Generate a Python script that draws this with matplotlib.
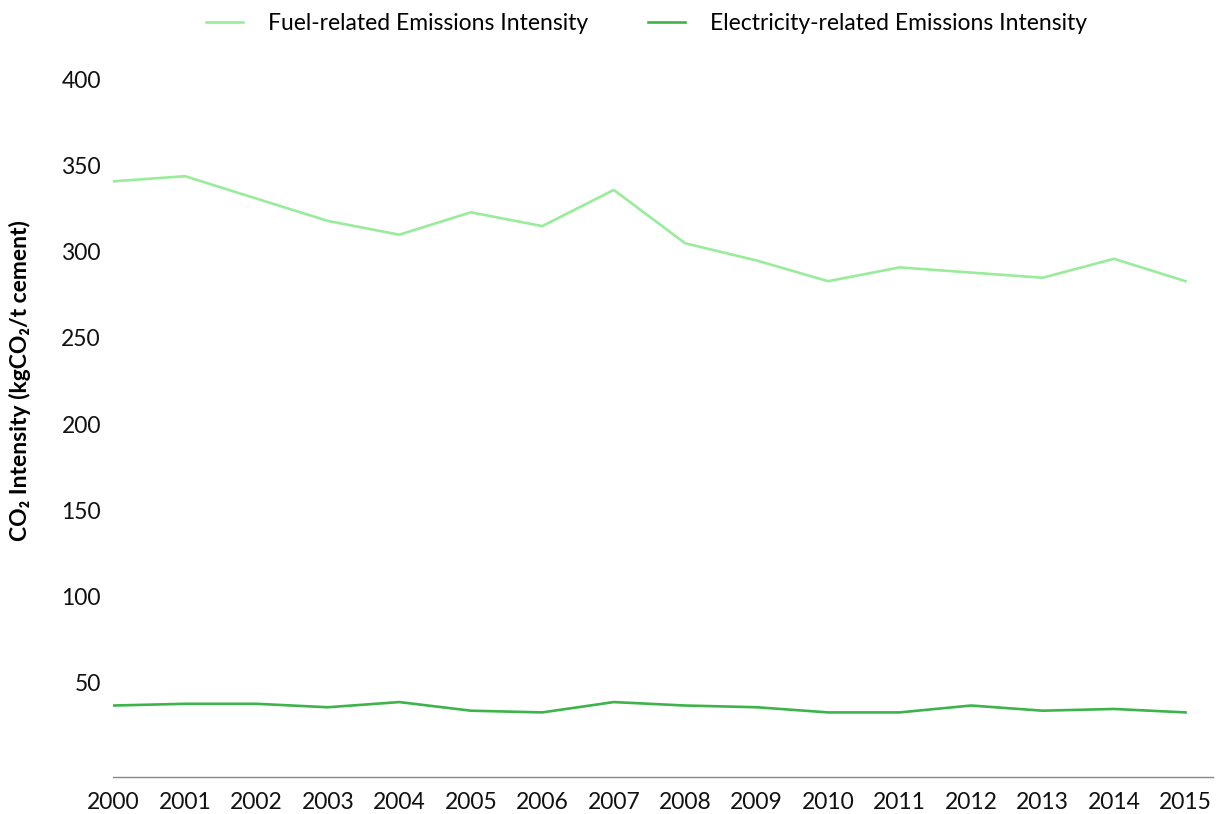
import numpy as np
import matplotlib.pyplot as plt

years = np.arange(2000, 2016)
fuel = [341, 344, 331, 318, 310, 323, 315, 336, 305, 295, 283, 291, 288, 285, 296, 283]
electricity = [36.5, 37.5, 37.5, 35.5, 38.5, 33.5, 32.5, 38.5, 36.5, 35.5, 32.5, 32.5, 36.5, 33.5, 34.5, 32.5]
y_ticks = [50, 100, 150, 200, 250, 300, 350, 400]

plt.rcParams['font.family'] = ['Lato', 'DejaVu Sans']

fig = plt.figure(figsize=(12.2, 8.14), dpi=100)
ax = fig.add_axes([0.093, 0.0455, 0.901, 0.8565])

ax.plot(years, fuel, color='#98ec9a', lw=1.9, label='Fuel-related Emissions Intensity')
ax.plot(years, electricity, color='#3db44a', lw=1.9, label='Electricity-related Emissions Intensity')

ax.set_xlim(2000, 2015.38)
ax.set_ylim(-5, 400)
ax.set_xticks(years)
ax.set_yticks(y_ticks)
ax.tick_params(axis='both', length=0, labelsize=16.5, colors='#111111')
ax.tick_params(axis='x', pad=11)
ax.tick_params(axis='y', pad=9)

for s in ['top', 'right', 'left']:
    ax.spines[s].set_visible(False)
ax.spines['bottom'].set_color('#888888')
ax.spines['bottom'].set_linewidth(1.0)

ax.set_ylabel('CO₂ Intensity (kgCO₂/t cement)', fontsize=16.5, fontweight='bold',
              family=['Lato', 'DejaVu Sans'])
ax.yaxis.set_label_coords(-0.075, 0.568)

fig.legend(loc='upper center', bbox_to_anchor=(0.53, 1.009), ncol=2, frameon=False,
           fontsize=16.5, handlelength=1.6, columnspacing=2.6, handletextpad=1.1)

fig.savefig('out.png', dpi=100)
